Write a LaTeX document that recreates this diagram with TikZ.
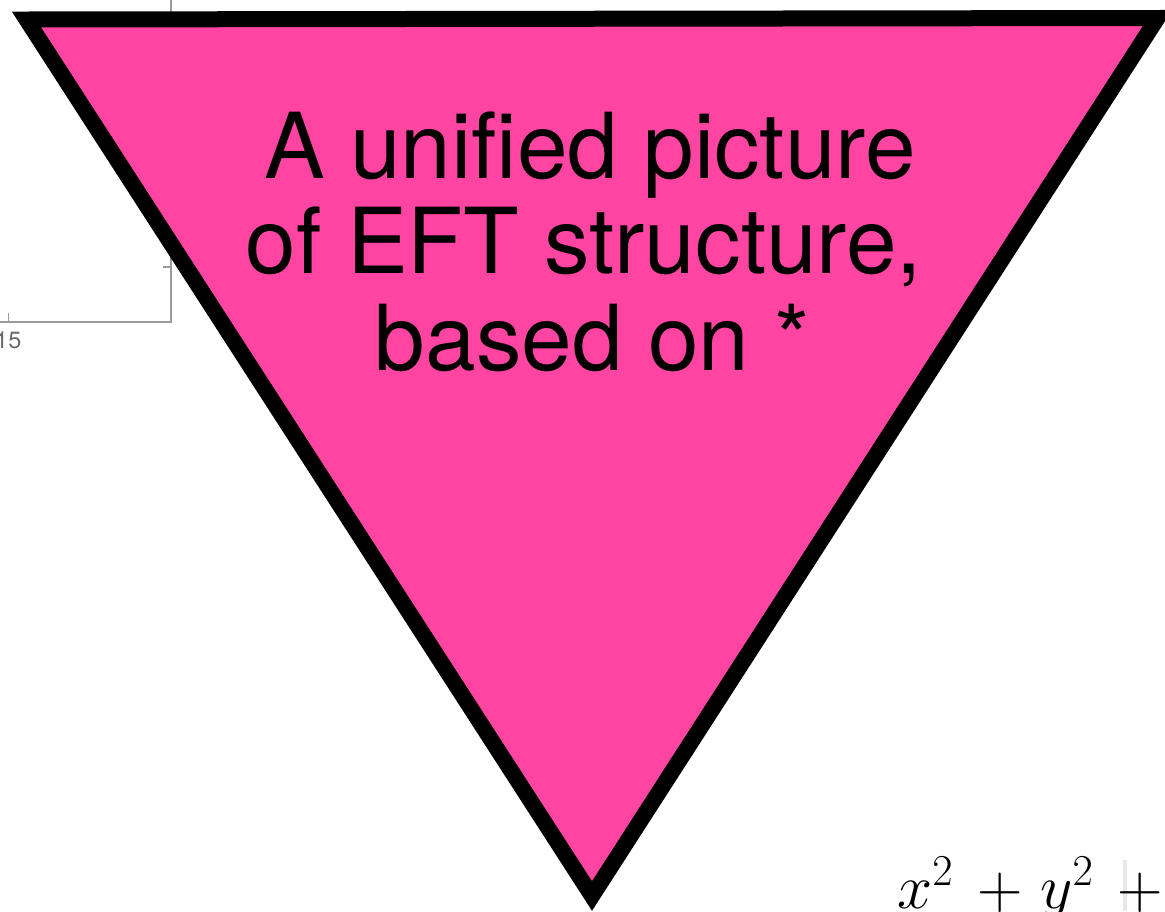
\RequirePackage{fix-cm}
\documentclass[tikz,border=0pt]{standalone}
\usepackage[no-math]{fontspec}
\newfontfamily\heros{TeX Gyre Heros}
\definecolor{tripink}{HTML}{FF44A2}
\definecolor{axisgray}{HTML}{9A9A9A}
\definecolor{labelgray}{HTML}{6A6A6A}
\tikzset{
  triframe/.style={draw=black, line width=16pt, line join=miter, fill=tripink},
  titleline/.style={font=\heros\fontsize{91}{96}\selectfont, inner sep=0pt, anchor=base, text=black},
  axisline/.style={draw=axisgray, line width=1.4pt},
  ticklabel/.style={font=\heros\fontsize{23.5}{26}\selectfont, text=labelgray, inner sep=0pt, anchor=north},
  mathtext/.style={font=\fontsize{63}{70}\selectfont, inner sep=0pt, anchor=base west}
}
\begin{document}
\begin{tikzpicture}[x=1pt,y=-1pt]
\useasboundingbox (0,0) rectangle (1165,911);
% partial plot axes in the background
\coordinate (axtop) at (171,0);
\coordinate (axcorner) at (171,322);
\coordinate (axleft) at (0,322);
\draw[axisline] (axtop) -- (axcorner) -- (axleft);
\coordinate (tickA) at (8.3,322);
\coordinate (tickAend) at (8.3,313);
\draw[axisline] (tickA) -- (tickAend);
\coordinate (tickB) at (171,267);
\coordinate (tickBend) at (163,267);
\draw[axisline] (tickB) -- (tickBend);
\node[ticklabel] (lab15) at (8.3,331.5) {15};
% triangle
\coordinate (tl) at (26.5,19.5);
\coordinate (tr) at (1157.5,18);
\coordinate (bt) at (592,896);
\path[triframe] (tl) -- (tr) -- (bt) -- cycle;
% title
\node[titleline] (l1) at (590,178) {A unified picture};
\node[titleline] (l2) at (584,273) {of EFT structure,};
\node[titleline] (l3) at (592.5,370) {based on *};
% math fragment
\draw[gray!18, line width=4pt] (1125,860) -- (1125,911);
\node[mathtext] (eq) at (897,908.5) {$x^2\mkern7mu{+}\mkern5mu y^2\mkern7mu{+}$};
\end{tikzpicture}
\end{document}
